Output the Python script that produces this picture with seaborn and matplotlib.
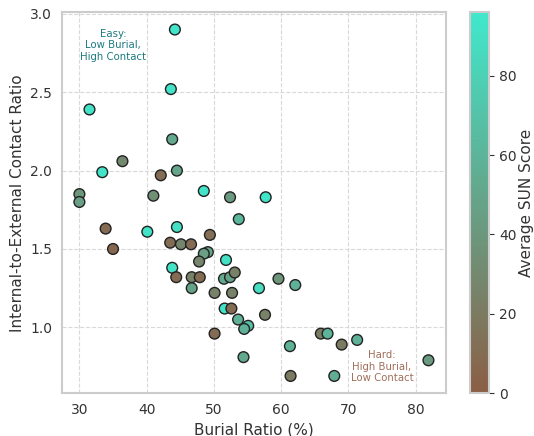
import numpy as np
import pandas as pd
import matplotlib
matplotlib.use('Agg')
import matplotlib.pyplot as plt
from matplotlib.colors import LinearSegmentedColormap
import seaborn as sns

sns.set_style('whitegrid', {'grid.linestyle': '--', 'grid.color': '#d9d9d9',
                            'axes.edgecolor': '#cccccc'})

# values
burial_ratio = [44.2, 43.6, 31.5, 43.8, 36.4, 33.4, 42.1, 44.5, 30.0, 30.0,
                41.0, 48.5, 52.4, 57.7, 53.7, 33.9, 40.1, 44.5, 49.4, 35.0,
                43.5, 45.1, 46.6, 49.1, 48.5, 47.8, 51.8, 43.8, 44.4, 46.7,
                47.9, 46.7, 50.1, 51.5, 52.4, 53.1, 56.7, 59.6, 62.1, 52.7,
                51.6, 52.6, 57.6, 53.6, 55.1, 54.5, 50.1, 65.9, 66.9, 69.0,
                71.3, 61.3, 54.4, 81.9, 61.4, 67.9]
contact_ratio = [2.90, 2.52, 2.39, 2.20, 2.06, 1.99, 1.97, 2.00, 1.85, 1.80,
                 1.84, 1.87, 1.83, 1.83, 1.69, 1.63, 1.61, 1.64, 1.59, 1.50,
                 1.54, 1.53, 1.53, 1.48, 1.47, 1.42, 1.43, 1.38, 1.32, 1.32,
                 1.32, 1.25, 1.22, 1.31, 1.32, 1.35, 1.25, 1.31, 1.27, 1.22,
                 1.12, 1.12, 1.08, 1.05, 1.01, 0.99, 0.96, 0.96, 0.96, 0.89,
                 0.92, 0.88, 0.81, 0.79, 0.69, 0.69]
sun_score = [94, 92, 93, 52, 30, 93, 10, 50, 40, 45,
             35, 93, 42, 94, 62, 8, 92, 90, 12, 6,
             10, 28, 10, 50, 45, 28, 90, 92, 10, 25,
             10, 48, 25, 52, 48, 24, 88, 38, 58, 25,
             92, 10, 25, 58, 68, 58, 10, 20, 60, 20,
             58, 58, 52, 42, 20, 55]

df = pd.DataFrame({'burial': burial_ratio, 'contact': contact_ratio, 'sun': sun_score})

cmap = LinearSegmentedColormap.from_list('sun', ['#8b5e45', '#40e8cc'])
vmin, vmax = 0, 96

fig, ax = plt.subplots(figsize=(5.34, 4.36), dpi=100)
fig.subplots_adjust(left=0.116, right=0.835, top=0.972, bottom=0.098)

sns.scatterplot(data=df, x='burial', y='contact', hue='sun', palette=cmap,
                hue_norm=(vmin, vmax), s=60, edgecolor='#222222', linewidth=1.0,
                legend=False, ax=ax, zorder=3)

for sp in ax.spines.values():
    sp.set_visible(True)
    sp.set_color('#cccccc')
    sp.set_linewidth(1.5)

ax.set_xticks([30, 40, 50, 60, 70, 80])
ax.set_yticks([1.0, 1.5, 2.0, 2.5, 3.0])
ax.set_xlabel('Burial Ratio (%)', fontsize=11, color='#333333')
ax.set_ylabel('Internal-to-External Contact Ratio', fontsize=11, color='#333333')
ax.tick_params(labelsize=10, colors='#333333')

ax.text(35, 2.80, 'Easy:\nLow Burial,\nHigh Contact', ha='center', va='center',
        fontsize=7.3, color='#1b7a80')
ax.text(75, 0.75, 'Hard:\nHigh Burial,\nLow Contact', ha='center', va='center',
        fontsize=7.3, color='#a06e5a')

sm = plt.cm.ScalarMappable(cmap=cmap, norm=plt.Normalize(vmin, vmax))
cax = fig.add_axes([0.880, 0.098, 0.036, 0.874])
cb = fig.colorbar(sm, cax=cax)
cb.set_label('Average SUN Score', fontsize=11, color='#333333', labelpad=2)
cb.ax.tick_params(labelsize=10, colors='#333333')
cb.set_ticks([0, 20, 40, 60, 80])
cb.outline.set_edgecolor('#cccccc')
cb.outline.set_linewidth(1.5)

fig.savefig('out.png', dpi=100)
